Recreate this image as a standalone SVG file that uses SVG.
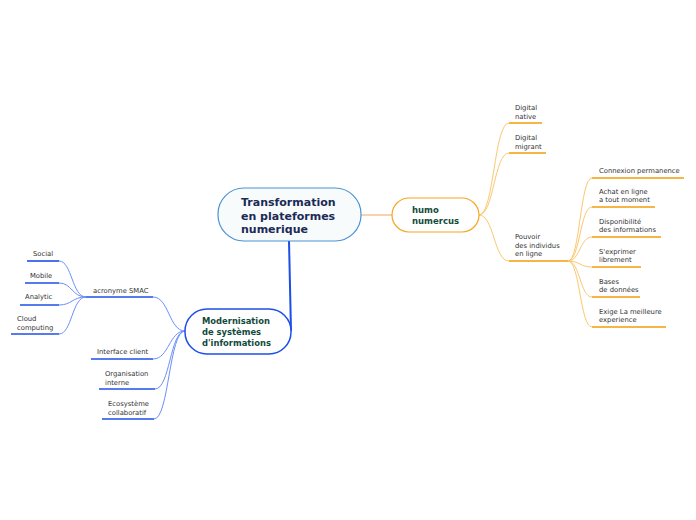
<svg xmlns="http://www.w3.org/2000/svg" width="696" height="520" viewBox="0 0 696 520">
<style>
.t{font-family:"DejaVu Sans",Verdana,sans-serif;font-size:6.8px;fill:#333}
.tb{font-family:"DejaVu Sans",Verdana,sans-serif;font-weight:bold}
.oc{fill:none;stroke:#fbc870;stroke-width:1}
.ou{stroke:#f59d0a;stroke-width:1.6}
.bc{fill:none;stroke:#6b8ff7;stroke-width:1}
.bu{stroke:#1d4fe6;stroke-width:1.6}
</style>
<rect width="696" height="520" fill="#fff"/>
<g id="connectors">
<line x1="361" y1="215" x2="392" y2="215" stroke="#f7a35c" stroke-width="1"/>
<line x1="289" y1="241" x2="291" y2="331" stroke="#1d4fe6" stroke-width="2"/>
<path class="oc" d="M479 215 C494 215 494 123 509 123"/>
<path class="oc" d="M479 215 C494 215 494 153 509 153"/>
<path class="oc" d="M479 215 C494 215 494 261 509 261"/>
<path class="oc" d="M568 261 C580 261 580 178 592 178"/>
<path class="oc" d="M568 261 C580 261 580 207 592 207"/>
<path class="oc" d="M568 261 C580 261 580 237 592 237"/>
<path class="oc" d="M568 261 C580 261 580 267 592 267"/>
<path class="oc" d="M568 261 C580 261 580 297 592 297"/>
<path class="oc" d="M568 261 C580 261 580 327 592 327"/>
<path class="bc" d="M185 331 C169 331 169 297 153 297"/>
<path class="bc" d="M185 331 C169 331 169 359 153 359"/>
<path class="bc" d="M185 331 C170 331 170 389 155 389"/>
<path class="bc" d="M185 331 C169 331 169 419 154 419"/>
<path class="bc" d="M86 297 C72 297 72 261 59 261"/>
<path class="bc" d="M86 297 C72 297 72 283 59 283"/>
<path class="bc" d="M86 297 C72 297 72 305 59 305"/>
<path class="bc" d="M86 297 C72 297 72 334 59 334"/>
</g>
<g id="central">
<rect x="218" y="188" width="143" height="53" rx="26" fill="#f8fbfb" stroke="#4a92d6" stroke-width="1.2"/>
<text class="tb" font-size="11" fill="#1b2a56"><tspan x="241" y="206">Transformation</tspan><tspan x="241" y="219.5">en plateformes</tspan><tspan x="241" y="233">numerique</tspan></text>
</g>
<g id="humo">
<rect x="392" y="198" width="87" height="34" rx="17" fill="#fff" stroke="#f5a623" stroke-width="1.2"/>
<text class="tb" font-size="8.5" fill="#124a3c"><tspan x="412" y="213">humo</tspan><tspan x="412" y="224">numercus</tspan></text>
</g>
<g id="modernisation">
<rect x="185" y="309" width="106" height="45" rx="22" fill="#fff" stroke="#1d4fe6" stroke-width="1.5"/>
<text class="tb" font-size="8.4" fill="#124a3c"><tspan x="202" y="324">Modernisation</tspan><tspan x="202" y="335">de systèmes</tspan><tspan x="202" y="346">d'informations</tspan></text>
</g>
<g id="digital-native"><text class="t"><tspan x="515" y="110">Digital</tspan><tspan x="515" y="118.5">native</tspan></text><line class="ou" x1="509" y1="123" x2="542" y2="123"/></g>
<g id="digital-migrant"><text class="t"><tspan x="515" y="140">Digital</tspan><tspan x="515" y="148.5">migrant</tspan></text><line class="ou" x1="509" y1="153" x2="546" y2="153"/></g>
<g id="pouvoir"><text class="t"><tspan x="515" y="239">Pouvoir</tspan><tspan x="515" y="247.5">des individus</tspan><tspan x="515" y="256">en ligne</tspan></text><line class="ou" x1="509" y1="261" x2="568" y2="261" stroke-width="2"/></g>
<g id="connexion"><text class="t"><tspan x="599" y="173">Connexion permanence</tspan></text><line class="ou" x1="592" y1="178" x2="684" y2="178"/></g>
<g id="achat"><text class="t"><tspan x="599" y="193.5">Achat en ligne</tspan><tspan x="599" y="202">a tout moment</tspan></text><line class="ou" x1="592" y1="207" x2="655" y2="207"/></g>
<g id="disponibilite"><text class="t"><tspan x="599" y="223.5">Disponibilité</tspan><tspan x="599" y="232">des informations</tspan></text><line class="ou" x1="592" y1="237" x2="661" y2="237"/></g>
<g id="exprimer"><text class="t"><tspan x="599" y="253.5">S'exprimer</tspan><tspan x="599" y="262">librement</tspan></text><line class="ou" x1="592" y1="267" x2="641" y2="267"/></g>
<g id="bases"><text class="t"><tspan x="599" y="283.5">Bases</tspan><tspan x="599" y="292">de données</tspan></text><line class="ou" x1="592" y1="297" x2="640" y2="297"/></g>
<g id="exige"><text class="t"><tspan x="599" y="313.5">Exige La meilleure</tspan><tspan x="599" y="322">experience</tspan></text><line class="ou" x1="592" y1="327" x2="666" y2="327"/></g>
<g id="smac"><text class="t"><tspan x="93" y="293">acronyme SMAC</tspan></text><line class="bu" x1="86" y1="297" x2="153" y2="297" stroke-width="2"/></g>
<g id="interface"><text class="t"><tspan x="97" y="354">Interface client</tspan></text><line class="bu" x1="91" y1="359" x2="153" y2="359"/></g>
<g id="organisation"><text class="t"><tspan x="105" y="376">Organisation</tspan><tspan x="105" y="384.5">interne</tspan></text><line class="bu" x1="99" y1="389" x2="155" y2="389"/></g>
<g id="ecosysteme"><text class="t"><tspan x="108" y="406">Ecosystème</tspan><tspan x="108" y="414.5">collaboratif</tspan></text><line class="bu" x1="102" y1="419" x2="154" y2="419"/></g>
<g id="social"><text class="t"><tspan x="33" y="256">Social</tspan></text><line class="bu" x1="27" y1="261" x2="59" y2="261"/></g>
<g id="mobile"><text class="t"><tspan x="30" y="278">Mobile</tspan></text><line class="bu" x1="25" y1="283" x2="59" y2="283"/></g>
<g id="analytic"><text class="t"><tspan x="25" y="299">Analytic</tspan></text><line class="bu" x1="20" y1="305" x2="59" y2="305"/></g>
<g id="cloud"><text class="t"><tspan x="17" y="321">Cloud</tspan><tspan x="17" y="329.5">computing</tspan></text><line class="bu" x1="11" y1="334" x2="59" y2="334"/></g>
</svg>
